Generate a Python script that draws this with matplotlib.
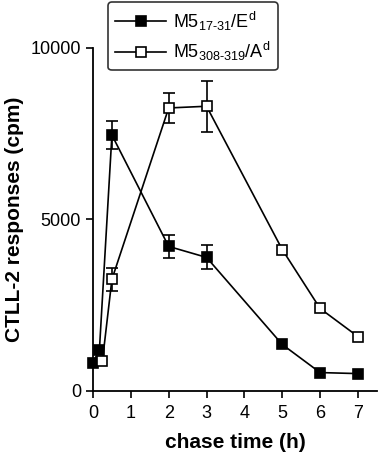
import numpy as np
import matplotlib
matplotlib.use("Agg")
import matplotlib.pyplot as plt

plt.rcParams["font.family"] = ["Liberation Sans", "DejaVu Sans"]
plt.rcParams["mathtext.fontset"] = "custom"
plt.rcParams["mathtext.rm"] = "Liberation Sans"

# M5 17-31 / E^d (filled squares)
t_e = [0, 0.17, 0.5, 2, 3, 5, 6, 7]
cpm_e = [820, 1200, 7460, 4210, 3890, 1350, 530, 500]
err_e = [0, 0, 400, 330, 350, 0, 0, 0]

# M5 308-319 / A^d (open squares)
t_a = [0.25, 0.5, 2, 3, 5, 6, 7]
cpm_a = [880, 3250, 8250, 8300, 4120, 2400, 1580]
err_a = [0, 330, 430, 750, 0, 0, 0]

x_ticks = [0, 1, 2, 3, 4, 5, 6, 7]
y_ticks = [0, 5000, 10000]

fig = plt.figure(figsize=(3.78, 4.57), dpi=100)
ax = fig.add_axes([0.246, 0.145, 0.751, 0.750])


def draw_series(t, y, err, face, label):
    t, y, err = np.array(t), np.array(y), np.array(err)
    m = err > 0
    ax.errorbar(t[m], y[m], yerr=err[m], fmt="none", ecolor="black",
                elinewidth=1.2, capsize=4, capthick=1.2, zorder=2, clip_on=False)
    ax.plot(t, y, "-s", color="black", lw=1.2, ms=7.5, mfc=face, mec="black",
            mew=1.2, label=label, zorder=3, clip_on=False)


draw_series(t_e, cpm_e, err_e, "black", r"M5$_{\mathregular{17\text{-}31}}$/E$^{\mathregular{d}}$")
draw_series(t_a, cpm_a, err_a, "white", r"M5$_{\mathregular{308\text{-}319}}$/A$^{\mathregular{d}}$")

ax.set_xlim(0, 7.5)
ax.set_ylim(0, 10000)
ax.set_xticks(x_ticks)
ax.set_yticks(y_ticks)
ax.tick_params(labelsize=13, width=1.2, length=5)
ax.tick_params(axis="x", pad=5)
for s in ["top", "right"]:
    ax.spines[s].set_visible(False)
for s in ["left", "bottom"]:
    ax.spines[s].set_linewidth(1.3)

ax.set_xlabel("chase time (h)", fontsize=15, fontweight="bold", labelpad=8)
ax.set_ylabel("CTLL-2 responses (cpm)", fontsize=15, fontweight="bold", labelpad=5)

leg = ax.legend(loc="upper left", bbox_to_anchor=(0.286, 0.995),
                bbox_transform=fig.transFigure, fontsize=13, frameon=True,
                fancybox=True, edgecolor="black", handlelength=2.8,
                handletextpad=0.4, borderpad=0.4, labelspacing=0.4,
                borderaxespad=0)
leg.get_frame().set_linewidth(1.2)

fig.savefig("out.png", dpi=100)
